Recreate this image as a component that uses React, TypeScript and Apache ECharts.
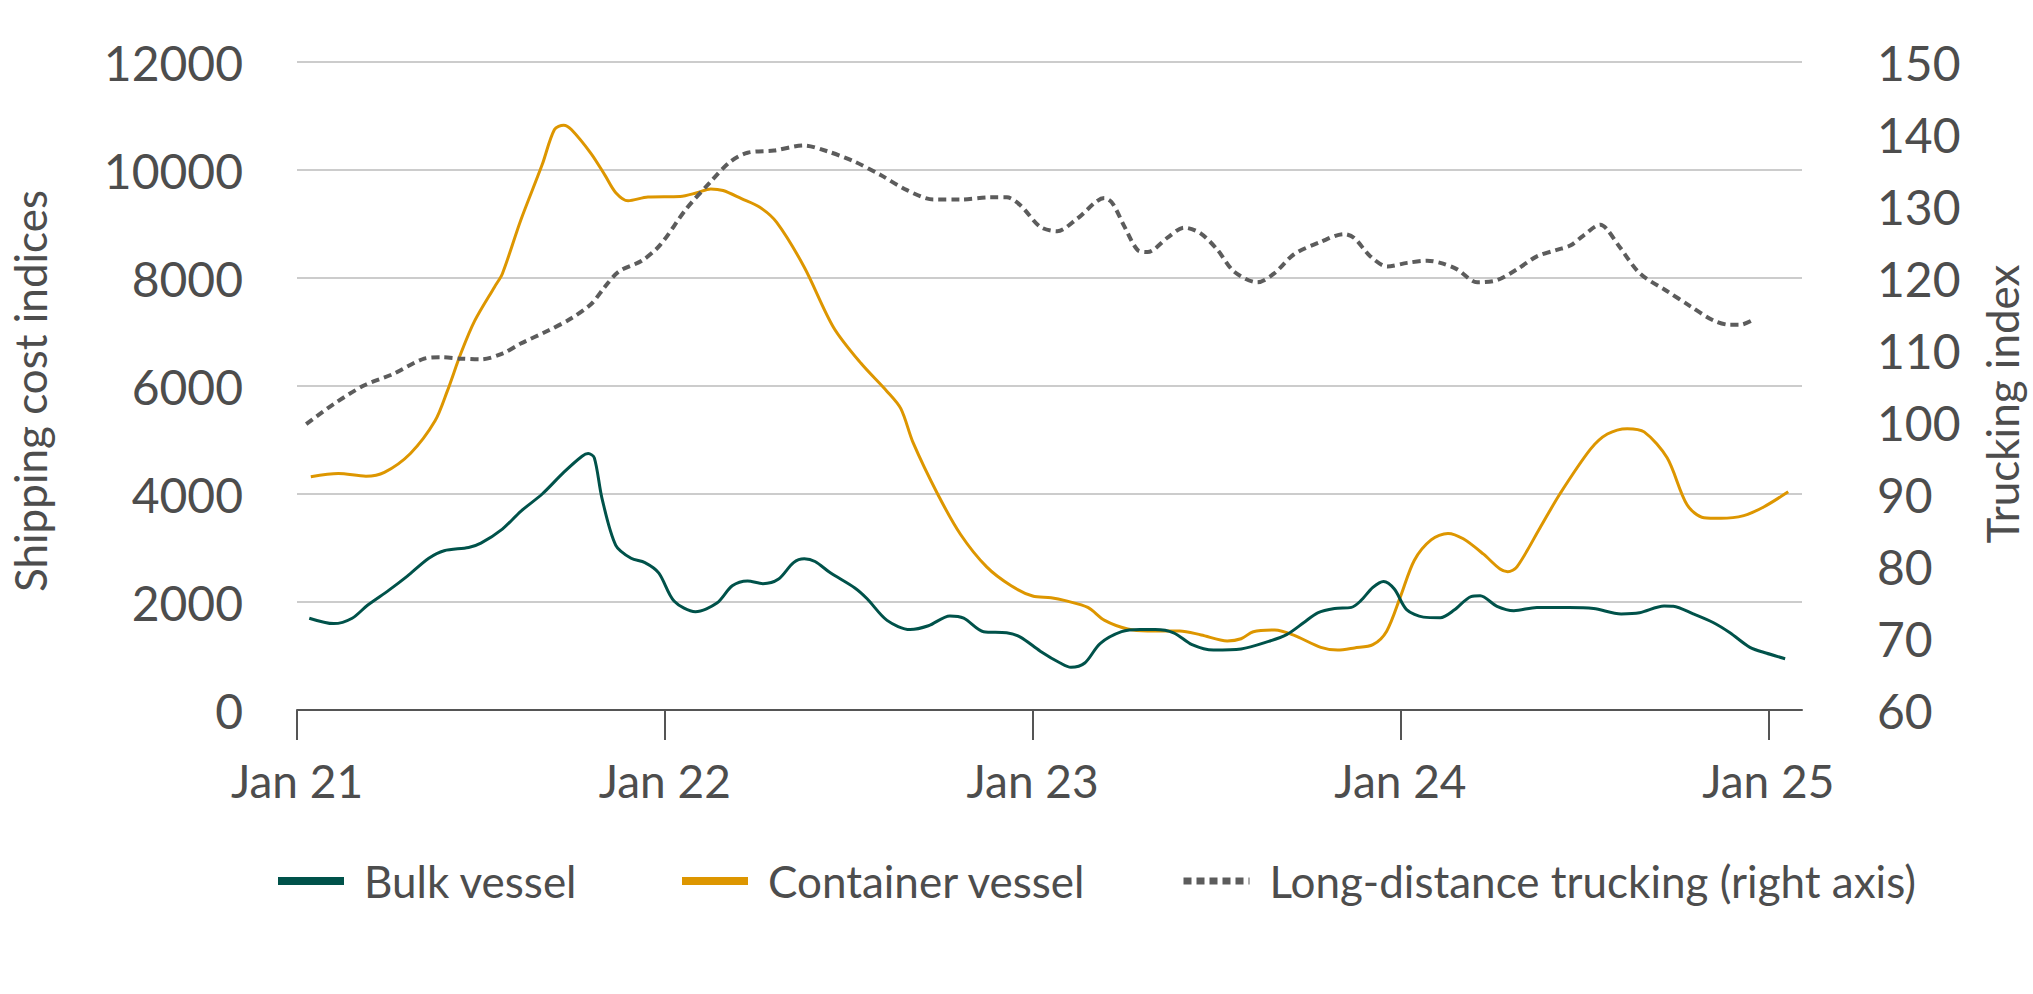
import React, { useEffect, useRef } from "react";
import * as echarts from "echarts";

// x = months since Jan 2021
const tickMonths = [0, 12, 24, 36, 48];
const tickLabels = ["Jan 21", "Jan 22", "Jan 23", "Jan 24", "Jan 25"];

const bulkVessel: [number, number][] = [
  [0.4, 1700], [1.2, 1600], [1.8, 1700], [2.3, 1940], [3.0, 2220], [3.6, 2480], [4.3, 2810],
  [4.8, 2950], [5.6, 3010], [6.0, 3090], [6.7, 3350], [7.3, 3680], [8.0, 4000], [8.7, 4400],
  [9.3, 4700], [9.5, 4750], [9.7, 4670], [9.95, 3920], [10.4, 3050], [10.9, 2810], [11.35, 2730],
  [11.8, 2540], [12.3, 2020], [13.0, 1820], [13.7, 1980], [14.2, 2300], [14.7, 2390], [15.2, 2340],
  [15.7, 2420], [16.2, 2730], [16.55, 2800], [16.9, 2750], [17.4, 2540], [18.2, 2260], [18.6, 2060],
  [19.25, 1660], [20.0, 1490], [20.6, 1560], [21.3, 1740], [21.75, 1700], [22.4, 1450], [23.15, 1430],
  [23.6, 1350], [24.25, 1090], [24.9, 870], [25.25, 790], [25.7, 870], [26.2, 1230], [26.9, 1450],
  [27.5, 1490], [28.0, 1490], [28.6, 1430], [29.2, 1210], [29.9, 1110], [30.8, 1130], [31.7, 1270],
  [32.3, 1400], [32.85, 1620], [33.3, 1800], [33.85, 1880], [34.4, 1900], [34.7, 2020], [35.1, 2270],
  [35.45, 2380], [35.8, 2240], [36.2, 1860], [36.75, 1720], [37.3, 1710], [37.75, 1850], [38.3, 2100],
  [38.6, 2115], [39.15, 1920], [39.7, 1840], [40.45, 1900], [41.5, 1900], [42.3, 1880], [43.2, 1780],
  [43.8, 1800], [44.6, 1925], [44.9, 1920], [45.55, 1780], [46.2, 1620], [46.75, 1430], [47.4, 1160],
  [47.95, 1050], [48.55, 950],
];

const containerVessel: [number, number][] = [
  [0.45, 4320], [1.35, 4380], [2.25, 4330], [2.85, 4400], [3.7, 4750], [4.5, 5350], [4.9, 5900],
  [5.35, 6610], [5.8, 7210], [6.45, 7840], [6.7, 8080], [7.3, 9070], [8.0, 10100], [8.4, 10750],
  [8.7, 10830], [8.95, 10750], [9.6, 10300], [10.05, 9900], [10.4, 9580], [10.8, 9430], [11.45, 9500],
  [12.5, 9510], [13.05, 9580], [13.5, 9650], [13.9, 9620], [14.5, 9470], [15.1, 9310], [15.65, 9030],
  [16.55, 8200], [17.5, 7090], [18.4, 6420], [19.25, 5900], [19.7, 5580], [20.1, 4950], [20.9, 4000],
  [21.65, 3250], [22.5, 2650], [23.3, 2300], [24.0, 2110], [24.6, 2080], [25.1, 2020], [25.8, 1900],
  [26.35, 1660], [27.1, 1500], [27.75, 1465], [28.8, 1465], [29.5, 1390], [30.35, 1280], [30.8, 1320],
  [31.2, 1450], [31.9, 1480], [32.5, 1390], [33.4, 1160], [33.95, 1110], [34.5, 1150], [35.1, 1210],
  [35.55, 1460], [36.0, 2100], [36.45, 2770], [37.0, 3150], [37.55, 3270], [38.05, 3170], [38.7, 2890],
  [39.25, 2610], [39.5, 2560], [39.8, 2650], [40.55, 3370], [41.2, 4000], [42.2, 4830], [42.75, 5110],
  [43.4, 5210], [43.95, 5150], [44.7, 4670], [45.35, 3800], [45.9, 3560], [46.45, 3550], [47.2, 3600],
  [47.85, 3760], [48.65, 4040],
];

const truckingIndex: [number, number][] = [
  [0.3, 99.7], [1.2, 102.5], [2.2, 105.1], [3.1, 106.6], [4.15, 108.8], [4.7, 109.0], [5.35, 108.8],
  [6.0, 108.7], [6.7, 109.5], [7.3, 110.9], [8.2, 112.7], [8.95, 114.4], [9.6, 116.4], [10.05, 118.8],
  [10.5, 120.9], [11.25, 122.4], [11.85, 124.6], [12.7, 129.6], [13.5, 133.4], [14.15, 136.2],
  [14.7, 137.4], [15.56, 137.7], [16.54, 138.4], [17.3, 137.6], [18.17, 136.2], [19.04, 134.3],
  [19.9, 132.2], [20.77, 130.9], [21.64, 130.9], [22.62, 131.2], [23.16, 131.2], [23.6, 130.1],
  [24.25, 127.1], [24.8, 126.5], [25.47, 128.3], [26.34, 131.1], [26.6, 130.4], [27.0, 127.1],
  [27.42, 123.9], [27.75, 123.6], [28.4, 125.6], [28.94, 127.0], [29.48, 126.2], [30.03, 123.9],
  [30.57, 120.9], [31.33, 119.4], [31.87, 120.6], [32.53, 123.3], [33.39, 125.0], [34.15, 126.1],
  [34.48, 125.6], [35.02, 123.0], [35.57, 121.6], [36.22, 122.1], [36.87, 122.4], [37.3, 122.1],
  [37.85, 121.2], [38.5, 119.4], [39.15, 119.7], [39.8, 121.2], [40.45, 123.0], [41.1, 123.9],
  [41.54, 124.5], [41.97, 125.9], [42.52, 127.4], [42.73, 126.8], [43.17, 124.2], [43.82, 120.6],
  [44.69, 118.2], [45.45, 116.1], [46.21, 114.1], [46.75, 113.5], [47.08, 113.5], [47.51, 114.2],
];

const seriesNames = ["Bulk vessel", "Container vessel", "Long-distance trucking (right axis)"];
const leftAxisName = "Shipping cost indices";
const rightAxisName = "Trucking index";

const TEXT = "#4d4d4d";
const FONT = "Lato";
const C_BULK = "#00524a";
const C_CONT = "#dd9600";
const C_TRUCK = "#5c5c5c";

export default function App() {
  const ref = useRef<HTMLDivElement>(null);
  useEffect(() => {
    if (!ref.current) return;
    const chart = echarts.init(ref.current, undefined, { renderer: "svg" });
    const legendText = { color: TEXT, fontFamily: FONT, fontSize: 44, padding: [0, 0, 0, 15] };
    const legendBase = {
      top: 854,
      itemWidth: 66,
      itemHeight: 16,
      textStyle: legendText,
      itemStyle: { opacity: 0, borderWidth: 0 },
    };
    chart.setOption({
      animation: false,
      grid: {
        left: 297,
        right: 231,
        top: 62,
        bottom: 284,
        containLabel: false,
        outerBoundsMode: "none",
      },
      textStyle: { fontFamily: FONT },
      legend: [
        { ...legendBase, data: [seriesNames[0]], left: 269, lineStyle: { width: 8 } },
        { ...legendBase, data: [seriesNames[1]], left: 673, lineStyle: { width: 8 } },
        { ...legendBase, data: [seriesNames[2]], left: 1175, lineStyle: { width: 7 } },
      ],
      xAxis: {
        type: "value",
        min: 0,
        max: 49.1,
        interval: 12,
        axisLine: { show: true, onZero: false, lineStyle: { color: "#555", width: 2 } },
        axisTick: { show: true, length: 30, customValues: tickMonths, lineStyle: { color: "#555", width: 2 } },
        axisLabel: {
          customValues: tickMonths,
          formatter: (v: number) => tickLabels[Math.round(v / 12)] ?? "",
          color: TEXT,
          fontFamily: FONT,
          fontSize: 46,
          margin: 47,
        },
        splitLine: { show: false },
      },
      yAxis: [
        {
          type: "value",
          min: 0,
          max: 12000,
          interval: 2000,
          name: leftAxisName,
          nameLocation: "middle",
          nameRotate: 90,
          nameGap: 244,
          nameTextStyle: {
            color: TEXT,
            fontFamily: FONT,
            fontSize: 44,
            lineHeight: 46,
            padding: [0, 10, 0, 0],
          },
          axisLine: { show: false },
          axisTick: { show: false },
          axisLabel: {
            color: TEXT,
            fontFamily: FONT,
            fontSize: 48,
            margin: 54,
            formatter: (v: number) => String(v),
          },
          splitLine: { show: true, lineStyle: { color: "#cccccc", width: 2 } },
        },
        {
          type: "value",
          min: 60,
          max: 150,
          interval: 10,
          position: "right",
          name: rightAxisName,
          nameLocation: "middle",
          nameRotate: 90,
          nameGap: 178,
          nameTextStyle: { color: TEXT, fontFamily: FONT, fontSize: 44, padding: [0, 36, 0, 0] },
          axisLine: { show: false },
          axisTick: { show: false },
          axisLabel: {
            color: TEXT,
            fontFamily: FONT,
            fontSize: 48,
            margin: 75,
            formatter: (v: number) => String(v),
          },
          splitLine: { show: false },
        },
      ],
      series: [
        {
          name: seriesNames[0],
          type: "line",
          yAxisIndex: 0,
          data: bulkVessel,
          symbol: "none",
          showSymbol: false,
          smooth: 0.3,
          color: C_BULK,
          lineStyle: { color: C_BULK, width: 3 },
          z: 3,
        },
        {
          name: seriesNames[1],
          type: "line",
          yAxisIndex: 0,
          data: containerVessel,
          symbol: "none",
          showSymbol: false,
          smooth: 0.3,
          color: C_CONT,
          lineStyle: { color: C_CONT, width: 3 },
          z: 2,
        },
        {
          name: seriesNames[2],
          type: "line",
          yAxisIndex: 1,
          data: truckingIndex,
          symbol: "none",
          showSymbol: false,
          smooth: 0.3,
          color: C_TRUCK,
          lineStyle: { color: C_TRUCK, width: 4, type: [8, 5] },
          z: 4,
        },
      ],
    });
    return () => chart.dispose();
  }, []);
  return (
    <div
      ref={ref}
      style={{ position: "absolute", left: 0, top: 0, width: 2033, height: 994, background: "#fff" }}
    />
  );
}
